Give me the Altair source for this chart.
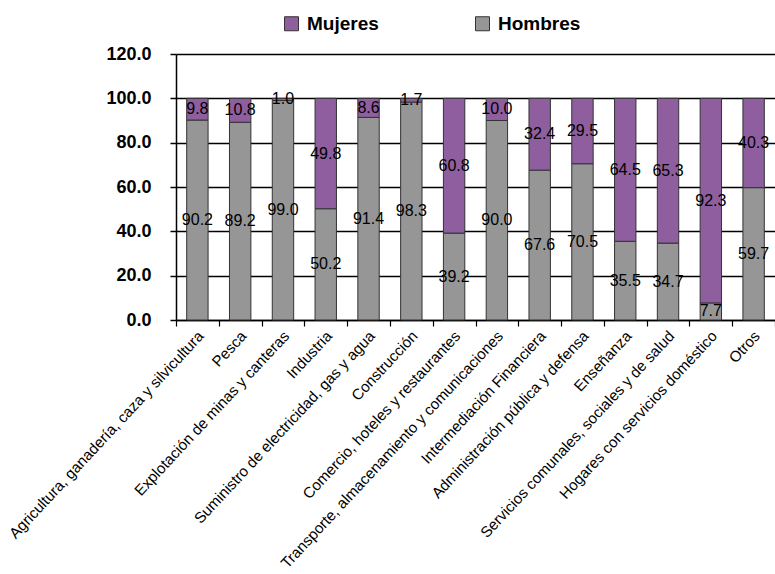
import altair as alt
import pandas as pd

categories = [
    "Agricultura, ganadería, caza y silvicultura",
    "Pesca",
    "Explotación de minas y canteras",
    "Industria",
    "Suministro de electricidad, gas y agua",
    "Construcción",
    "Comercio, hoteles y restaurantes",
    "Transporte, almacenamiento y comunicaciones",
    "Intermediación Financiera",
    "Administración pública y defensa",
    "Enseñanza",
    "Servicios comunales, sociales y de salud",
    "Hogares con servicios doméstico",
    "Otros",
]
hombres = [90.2, 89.2, 99.0, 50.2, 91.4, 98.3, 39.2, 90.0, 67.6, 70.5, 35.5, 34.7, 7.7, 59.7]
mujeres = [9.8, 10.8, 1.0, 49.8, 8.6, 1.7, 60.8, 10.0, 32.4, 29.5, 64.5, 65.3, 92.3, 40.3]
series = ["Mujeres", "Hombres"]
colors = ["#8E5E9E", "#969696"]
y_ticks = [0, 20, 40, 60, 80, 100, 120]

rows = []
for i, c in enumerate(categories):
    rows.append({"cat": c, "serie": "Hombres", "valor": hombres[i], "orden": 0})
    rows.append({"cat": c, "serie": "Mujeres", "valor": mujeres[i], "orden": 1})
df = pd.DataFrame(rows)

base = (
    alt.Chart(df)
    .transform_stack(
        stack="valor",
        groupby=["cat"],
        as_=["v0", "v1"],
        sort=[alt.SortField("orden", order="ascending")],
    )
    .transform_calculate(
        mid="(datum.v0 + datum.v1) / 2",
        etiqueta="format(datum.valor, '.1f')",
    )
)

xscale = alt.Scale(paddingInner=0, paddingOuter=0)

bars = base.mark_bar(
    stroke="#333333", strokeWidth=1, width=alt.RelativeBandSize(0.5)
).encode(
    x=alt.X(
        "cat:N",
        sort=categories,
        scale=xscale,
        axis=alt.Axis(
            title=None,
            labelAngle=-47,
            labelAlign="right",
            labelBaseline="middle",
            labelFont="Liberation Sans",
            labelFontSize=15.2,
            labelColor="black",
            labelLimit=0,
            labelPadding=7,
            labelOffset=3,
            tickBand="extent",
            tickColor="black",
            tickSize=6,
            tickWidth=1.2,
            domainColor="black",
            domainWidth=1.5,
            grid=False,
        ),
    ),
    y=alt.Y(
        "v0:Q",
        scale=alt.Scale(domain=[0, 120]),
        axis=alt.Axis(
            title=None,
            values=y_ticks,
            format=".1f",
            labelFont="Liberation Sans",
            labelFontSize=18,
            labelFontWeight="bold",
            labelColor="black",
            labelPadding=19,
            tickColor="black",
            tickSize=6,
            tickWidth=1.5,
            domainColor="black",
            domainWidth=1.5,
            grid=True,
            gridColor="black",
            gridWidth=1.5,
            gridOpacity=1,
        ),
    ),
    y2="v1:Q",
    color=alt.Color(
        "serie:N",
        scale=alt.Scale(domain=series, range=colors),
        legend=alt.Legend(
            title=None,
            orient="none",
            legendX=106,
            legendY=-40,
            direction="horizontal",
            symbolType="square",
            symbolSize=196,
            symbolStrokeColor="#333333",
            symbolStrokeWidth=1,
            labelFont="Liberation Sans",
            labelFontSize=19,
            labelFontWeight="bold",
            labelColor="black",
            labelOffset=6,
            columnPadding=94,
            padding=0,
        ),
    ),
)

text = base.mark_text(
    font="Liberation Sans",
    fontSize=16,
    color="black",
    baseline="middle",
    align="center",
).encode(
    x=alt.X("cat:N", sort=categories),
    y=alt.Y("mid:Q"),
    text="etiqueta:N",
)

chart = (
    alt.layer(bars, text)
    .properties(
        width=599,
        height=266,
        padding={"left": 176, "top": 54, "right": 0, "bottom": 254},
        autosize="none",
        background="white",
    )
    .configure_view(stroke=None)
)

chart.save("out.html", embed_options={"renderer": "svg", "actions": False})
